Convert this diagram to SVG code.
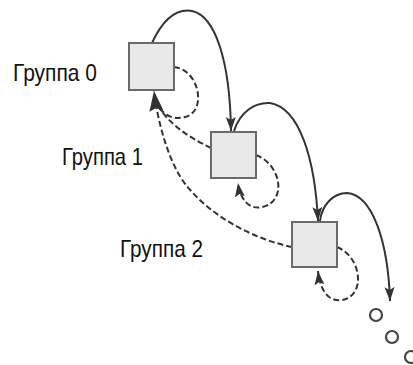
<svg xmlns="http://www.w3.org/2000/svg" width="413" height="365" viewBox="0 0 413 365">
<defs>
<style>
.box{fill:#e9e9e9;stroke:#6a6a6a;stroke-width:2}
.lbl{font-family:"Liberation Sans",Arial,sans-serif;font-size:24px;fill:#111}
.solid{fill:none;stroke:#333;stroke-width:2}
.dash{fill:none;stroke:#333;stroke-width:2;stroke-dasharray:6 3}
.dot{fill:#fff;stroke:#444;stroke-width:2.2}
</style>
<marker id="ah" markerUnits="userSpaceOnUse" markerWidth="16" markerHeight="12" refX="14" refY="5" orient="auto">
<path d="M0,0 L14,5 L0,10 L3,5 Z" fill="#333"/>
</marker>
<marker id="ahBig" markerUnits="userSpaceOnUse" markerWidth="22" markerHeight="16" refX="20" refY="7" orient="auto">
<path d="M0,0 L20,7 L0,14 L3,7 Z" fill="#333"/>
</marker>
</defs>
<g id="connectors">
<path class="solid" marker-end="url(#ah)" d="M152,43 C165,15 180,9 192,11 C215,16 230,60 231,131"/>
<path class="solid" marker-end="url(#ah)" d="M234,131 C240,112 255,102 270,103 C300,108 315,160 318,221"/>
<path class="solid" marker-end="url(#ah)" d="M320,221 C322,205 333,193 347,193 C372,195 388,240 390,301"/>
<path class="dash" d="M174,67 C200,70 207,112 185,117 C170,121 160,112 157,102"/>
<path class="dash" d="M211,148 C190,138 170,125 158,106"/>
<path class="dash" marker-end="url(#ahBig)" d="M292,247 C250,238 210,215 186,185 C170,165 158,125 154,91"/>
<path class="dash" marker-end="url(#ah)" d="M256,155 C282,165 287,202 262,207 C248,210 240,198 238,183"/>
<path class="dash" marker-end="url(#ah)" d="M337,247 C362,257 366,296 342,300 C328,302 320,290 318,271"/>
</g>
<g id="node0"><rect class="box" x="129" y="43" width="45" height="47"/><text class="lbl" x="13" y="81" textLength="84" lengthAdjust="spacingAndGlyphs">Группа 0</text></g>
<g id="node1"><rect class="box" x="211" y="132" width="45" height="46"/><text class="lbl" x="62" y="165" textLength="81" lengthAdjust="spacingAndGlyphs">Группа 1</text></g>
<g id="node2"><rect class="box" x="292" y="222" width="45" height="45"/><text class="lbl" x="120" y="257" textLength="83" lengthAdjust="spacingAndGlyphs">Группа 2</text></g>
<g id="more">
<circle class="dot" cx="376" cy="315" r="6"/>
<circle class="dot" cx="392" cy="337" r="6"/>
<circle class="dot" cx="411" cy="357" r="6"/>
</g>
</svg>
